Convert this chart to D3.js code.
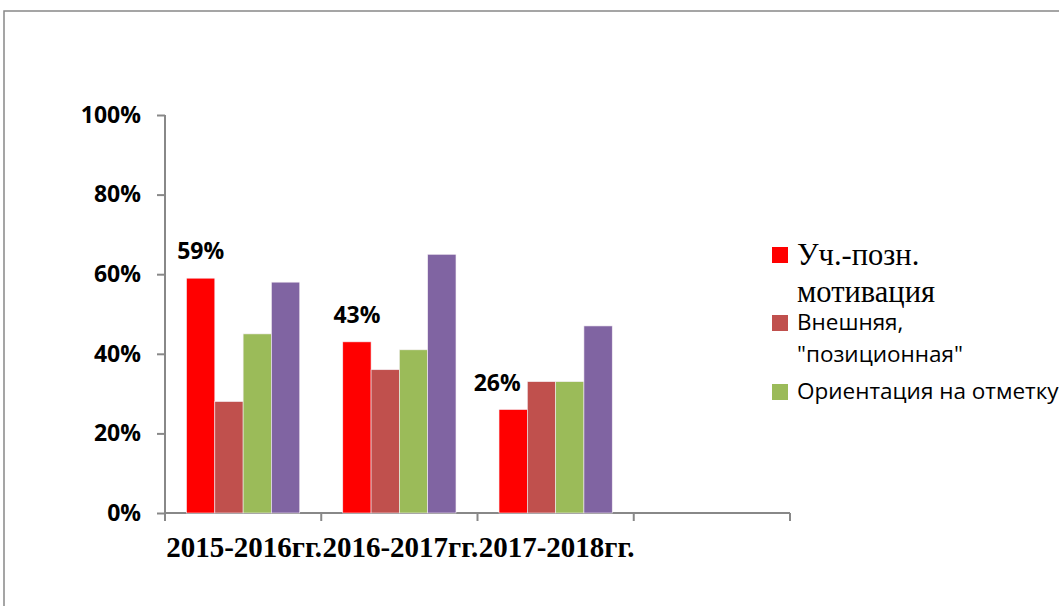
<!DOCTYPE html>
<html lang="ru">
<head>
<meta charset="utf-8" />
<script src="https://cdn.jsdelivr.net/npm/d3@7"></script>
<style>
  body { margin: 0; background: #fff; }
  .axis path, .axis line { stroke: #888; stroke-width: 2px; }
  .yaxis text { font-family: "Open Sans", sans-serif; font-weight: bold; font-size: 23px; fill: #000; }
  .xaxis text { font-family: "Liberation Serif", serif; font-weight: bold; font-size: 29px; fill: #000; }
  .val { font-family: "Open Sans", sans-serif; font-weight: bold; font-size: 23px; }
  .leg { font-family: "Open Sans", sans-serif; font-size: 22.5px; }
  .leg-serif { font-family: "Liberation Serif", serif; font-size: 30.5px; }
</style>
</head>
<body>
<script>
// data
var years = ["2015-2016гг.", "2016-2017гг.", "2017-2018гг.", ""];
var series = ["s1", "s2", "s3", "s4"];
var uchPozn    = [0.59, 0.43, 0.26];
var vneshnyaya = [0.28, 0.36, 0.33];
var otmetka    = [0.45, 0.41, 0.33];
var purple     = [0.58, 0.65, 0.47];
var colors = ["#ff0000", "#c0504d", "#9bbb59", "#8064a2"];
var yTicks = [0, 0.2, 0.4, 0.6, 0.8, 1];
var legendLines = [
  ["Уч.-позн.", "мотивация"],
  ["Внешняя,", "\"позиционная\""],
  ["Ориентация на отметку"]
];

var W = 1059, H = 606;
var svg = d3.select("body").append("svg").attr("width", W).attr("height", H);

// outer chart frame (goes off the page right and bottom)
svg.append("rect")
  .attr("x", 4).attr("y", 11)
  .attr("width", W + 20).attr("height", H + 20)
  .attr("fill", "none").attr("stroke", "#888").attr("stroke-width", 1.5);

var x0 = d3.scaleBand().domain(d3.range(years.length)).range([165, 790]);
var x1 = d3.scaleBand().domain(series).range([0, x0.bandwidth()]).paddingOuter(0.76);
var y = d3.scaleLinear().domain([0, 1]).range([513, 115]);

var allSeries = [uchPozn, vneshnyaya, otmetka, purple];
var bars = [];
allSeries.forEach(function(vals, s) {
  vals.forEach(function(v, i) { bars.push({ cat: i, s: s, v: v }); });
});

// y axis
svg.append("g").attr("class", "axis yaxis")
  .attr("transform", "translate(165,0)")
  .call(d3.axisLeft(y).tickValues(yTicks).tickSize(8).tickPadding(16)
    .tickFormat(d3.format(".0%")))
  .call(function(g) { g.select(".domain").attr("d", "M0,115V521"); });

// x axis with ticks at band edges
var xa = svg.append("g").attr("class", "axis xaxis")
  .attr("transform", "translate(0,513)");
xa.append("line").attr("x1", 165).attr("x2", 790).attr("y1", 0).attr("y2", 0);
xa.selectAll(".tk").data(d3.range(years.length + 1)).enter().append("line")
  .attr("class", "tk")
  .attr("x1", function(i) { return 165 + i * x0.step(); })
  .attr("x2", function(i) { return 165 + i * x0.step(); })
  .attr("y1", 0).attr("y2", 8);
xa.selectAll("text").data(years).enter().append("text")
  .attr("x", function(d, i) { return x0(i) + x0.bandwidth() / 2 + 1; })
  .attr("y", 44)
  .attr("text-anchor", "middle")
  .text(function(d) { return d; });

// bars
svg.selectAll("rect.bar").data(bars).enter().append("rect")
  .attr("class", "bar")
  .attr("x", function(d) { return x0(d.cat) + x1(series[d.s]); })
  .attr("width", x1.bandwidth())
  .attr("y", function(d) { return y(d.v); })
  .attr("height", function(d) { return y(0) - y(d.v); })
  .attr("fill", function(d) { return colors[d.s]; })
  .attr("stroke", "#f4eef4").attr("stroke-width", 0.6);

// value labels on the first series
svg.selectAll("text.val").data(uchPozn).enter().append("text")
  .attr("class", "val")
  .attr("x", function(d, i) { return x0(i) + x1("s1") + x1.bandwidth() / 2 - (i === 2 ? 16 : 0); })
  .attr("y", function(d) { return y(d) - 19; })
  .attr("text-anchor", "middle")
  .text(function(d) { return d3.format(".0%")(d); });

// legend
var legTop = [247, 315, 384];
var leg = svg.selectAll("g.legend").data(legendLines).enter().append("g")
  .attr("class", "legend")
  .attr("transform", function(d, i) { return "translate(772," + legTop[i] + ")"; });
leg.append("rect").attr("width", 16).attr("height", 16)
  .attr("fill", function(d, i) { return colors[i]; });
leg.each(function(lines, i) {
  var t = d3.select(this).append("text")
    .attr("class", i === 0 ? "leg-serif" : "leg")
    .attr("x", 25).attr("y", i === 0 ? 18 : 15);
  lines.forEach(function(line, k) {
    t.append("tspan").attr("x", 25).attr("dy", k === 0 ? 0 : (i === 0 ? 37 : 32)).text(line);
  });
});
</script>
</body>
</html>
